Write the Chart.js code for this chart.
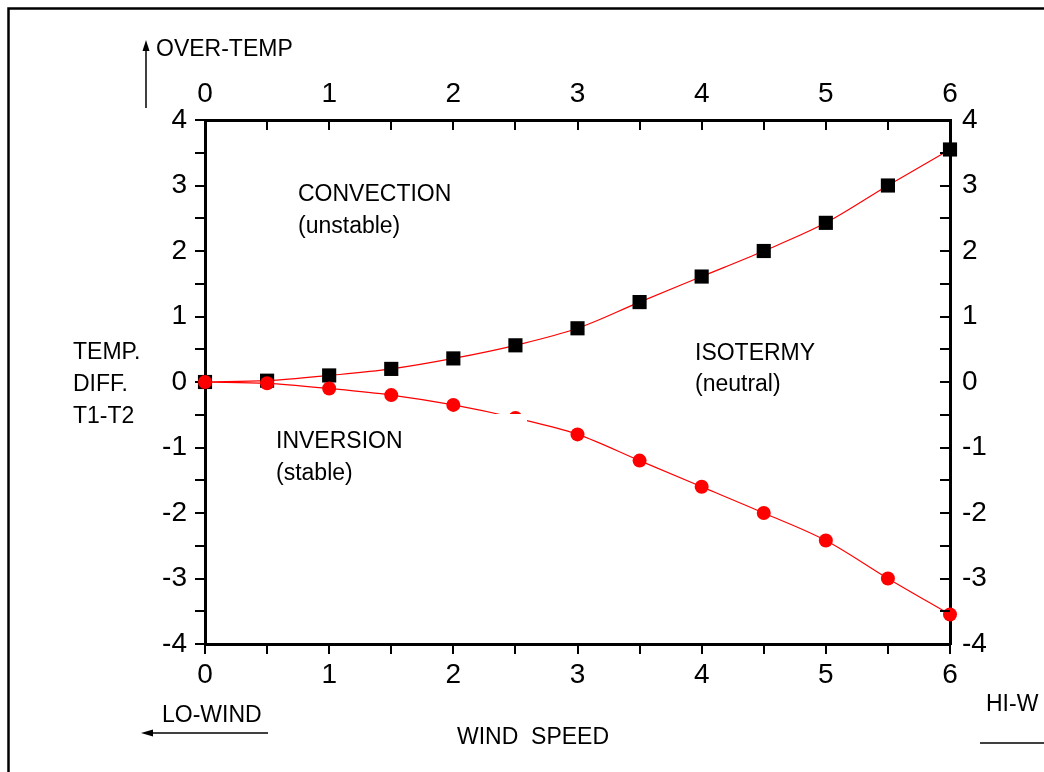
<!DOCTYPE html>
<html>
<head>
<meta charset="utf-8">
<script src="https://cdn.jsdelivr.net/npm/chart.js@4/dist/chart.umd.min.js"></script>
<style>
  html, body { margin: 0; padding: 0; background: #fff; }
  #wrap { width: 1044px; height: 772px; }
</style>
</head>
<body>
<div id="wrap"><canvas id="tempdiff" width="1044" height="772"></canvas></div>
<script>
// values
var windSpeed = [0, 0.5, 1, 1.5, 2, 2.5, 3, 3.5, 4, 4.5, 5, 5.5, 6];
var overTemp  = [0, 0.02, 0.1, 0.2, 0.36, 0.56, 0.82, 1.22, 1.61, 2.0, 2.43, 3.0, 3.55];
var underTemp = [0, -0.02, -0.1, -0.2, -0.35, -0.55, -0.8, -1.2, -1.6, -2.0, -2.42, -3.0, -3.55];
var xTicks = [0, 1, 2, 3, 4, 5, 6];
var yTicks = [-4, -3, -2, -1, 0, 1, 2, 3, 4];

var FONT = "'Liberation Sans', Arial, Helvetica, sans-serif";

function pts(xs, ys) {
  return xs.map(function (x, i) { return { x: x, y: ys[i] }; });
}
function onlyMajor(list) {
  return function (v) { return list.indexOf(v) >= 0 ? String(v) : ''; };
}

// inward tick marks for top and right axes, plus the loose texts and arrows
var decor = {
  id: 'decor',
  afterDatasetsDraw: function (chart) {
    var c = chart.ctx;
    // white box behind the INVERSION label (it hides part of the lower curve)
    c.save();
    c.fillStyle = '#fff';
    c.fillRect(270, 414, 257, 74);
    c.restore();
  },
  afterDraw: function (chart) {
    var c = chart.ctx, a = chart.chartArea;
    c.save();
    c.strokeStyle = '#000';
    c.lineWidth = 2;
    var top = chart.scales.x2, right = chart.scales.y2;
    top.ticks.forEach(function (t) {
      var px = Math.round(top.getPixelForValue(t.value));
      c.beginPath(); c.moveTo(px, a.top); c.lineTo(px, a.top + 10); c.stroke();
    });
    right.ticks.forEach(function (t) {
      var py = Math.round(right.getPixelForValue(t.value));
      c.beginPath(); c.moveTo(a.right, py); c.lineTo(a.right - 10, py); c.stroke();
    });

    // outer frame (only top and left are inside the picture)
    c.lineWidth = 2.5;
    c.beginPath(); c.moveTo(8.5, 772); c.lineTo(8.5, 8.5); c.lineTo(1044, 8.5); c.stroke();

    c.fillStyle = '#000';
    c.font = '23px ' + FONT;
    c.textBaseline = 'alphabetic';
    c.textAlign = 'left';
    var txt = [
      ['OVER-TEMP', 156, 56],
      ['CONVECTION', 298, 201],
      ['(unstable)', 298, 233],
      ['INVERSION', 276, 448],
      ['(stable)', 276, 480],
      ['ISOTERMY', 695, 360],
      ['(neutral)', 695, 391],
      ['TEMP.', 73, 359],
      ['DIFF.', 73, 391],
      ['T1-T2', 73, 423],
      ['LO-WIND', 162, 722],
      ['WIND  SPEED', 457, 744],
      ['HI-W', 986, 711]
    ];
    txt.forEach(function (t) { c.fillText(t[0], t[1], t[2]); });

    // arrows
    c.lineWidth = 1.5;
    c.beginPath(); c.moveTo(146, 108); c.lineTo(146, 48); c.stroke();
    c.beginPath(); c.moveTo(146, 40); c.lineTo(142.5, 51); c.lineTo(149.5, 51); c.closePath(); c.fill();
    c.beginPath(); c.moveTo(268, 733); c.lineTo(150, 733); c.stroke();
    c.beginPath(); c.moveTo(141, 733); c.lineTo(153, 729.5); c.lineTo(153, 736.5); c.closePath(); c.fill();
    c.beginPath(); c.moveTo(980, 743); c.lineTo(1044, 743); c.stroke();
    c.restore();
  }
};

var tickFont = { family: FONT, size: 28 };

var cfg = {
  type: 'line',
  data: {
    datasets: [{
      label: 'inversion',
      data: pts(windSpeed, underTemp),
      borderColor: '#ff0000',
      backgroundColor: '#ff0000',
      borderWidth: 1.2,
      pointStyle: 'circle',
      pointRadius: 7,
      pointBorderWidth: 0,
      cubicInterpolationMode: 'monotone',
      clip: false,
      order: 0
    }, {
      label: 'convection',
      data: pts(windSpeed, overTemp),
      borderColor: '#ff0000',
      pointBackgroundColor: '#000',
      pointBorderColor: '#000',
      borderWidth: 1.2,
      pointStyle: 'rect',
      pointRadius: 10,
      pointBorderWidth: 0,
      cubicInterpolationMode: 'monotone',
      clip: false,
      order: 1
    }]
  },
  options: {
    responsive: false,
    animation: false,
    events: [],
    layout: { padding: 0 },
    plugins: { legend: { display: false }, tooltip: { enabled: false } },
    scales: {
      x: {
        type: 'linear', position: 'bottom', min: 0, max: 6,
        afterFit: function (s) { s.height = 128; },
        border: { color: '#000', width: 3 },
        grid: { drawOnChartArea: false, color: '#000', lineWidth: 2, tickLength: 10 },
        ticks: { stepSize: 0.5, autoSkip: false, maxRotation: 0, color: '#000', font: tickFont, padding: 4, callback: onlyMajor(xTicks) }
      },
      x2: {
        type: 'linear', position: 'top', min: 0, max: 6,
        afterFit: function (s) { s.height = 120; },
        border: { color: '#000', width: 3 },
        grid: { drawOnChartArea: false, drawTicks: false },
        ticks: { stepSize: 0.5, autoSkip: false, maxRotation: 0, color: '#000', font: tickFont, padding: 9, callback: onlyMajor(xTicks) }
      },
      y: {
        type: 'linear', position: 'left', min: -4, max: 4,
        afterFit: function (s) { s.width = 205; },
        border: { color: '#000', width: 3 },
        grid: { drawOnChartArea: false, color: '#000', lineWidth: 2, tickLength: 10 },
        ticks: { stepSize: 0.5, autoSkip: false, color: '#000', font: tickFont, padding: 8, callback: onlyMajor(yTicks) }
      },
      y2: {
        type: 'linear', position: 'right', min: -4, max: 4,
        afterFit: function (s) { s.width = 94; },
        border: { color: '#000', width: 3 },
        grid: { drawOnChartArea: false, drawTicks: false },
        ticks: { stepSize: 0.5, autoSkip: false, color: '#000', font: tickFont, padding: 12, callback: onlyMajor(yTicks) }
      }
    }
  },
  plugins: [decor]
};

var tempGraph = document.getElementById('tempdiff').getContext('2d');
var tempChart = new Chart(tempGraph, cfg);
</script>
</body>
</html>
